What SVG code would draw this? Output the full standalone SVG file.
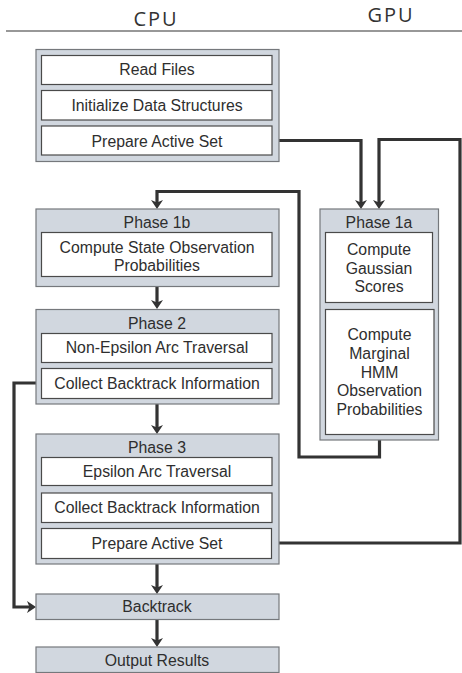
<svg xmlns="http://www.w3.org/2000/svg" width="462" height="673" viewBox="0 0 462 673">
  <style>
    .outer { fill: #d1d7df; stroke: #75787c; stroke-width: 1.2; }
    .inner { fill: #ffffff; stroke: #4a4a4a; stroke-width: 1.2; }
    .lbl { font-family: "Liberation Sans", Arial, sans-serif; font-size: 15.8px; fill: #2e2e2e; text-anchor: middle; }
    .head { font-family: "Open Sans", "DejaVu Sans", sans-serif; font-size: 20px; fill: #333333; text-anchor: middle; letter-spacing: 2px; }
    .wire { fill: none; stroke: #333333; stroke-width: 3.2; stroke-linejoin: miter; marker-end: url(#arrow); }
  </style>
  <defs>
    <marker id="arrow" markerUnits="userSpaceOnUse" viewBox="-1 -8 12 16" markerWidth="12" markerHeight="16" refX="4" refY="0" orient="auto">
      <path d="M0,-6 L9,0 L0,6 L2.5,0 Z" fill="#333333"/>
    </marker>
  </defs>

  <rect width="462" height="673" fill="#ffffff"/>

  <!-- column headings -->
  <g id="headings">
    <text class="head" x="156" y="25.5">CPU</text>
    <text class="head" x="391" y="22">GPU</text>
    <line x1="6" y1="31" x2="462" y2="31" stroke="#333333" stroke-width="1.2"/>
  </g>

  <!-- connectors -->
  <g id="connectors">
    <path class="wire" d="M272,140.5 H361 V204"/>
    <path class="wire" d="M272,543 H460 V139.5 H379 V204"/>
    <path class="wire" d="M379.5,440 V457 H299 V191.5 H157 V204"/>
    <path class="wire" d="M157,287 V304"/>
    <path class="wire" d="M157,404 V429"/>
    <path class="wire" d="M157,564 V589"/>
    <path class="wire" d="M157,619.5 V642"/>
    <path class="wire" d="M41.5,383 H14 V607 H31"/>
  </g>

  <!-- initialisation -->
  <g id="init">
    <rect class="outer" x="36" y="49.5" width="243" height="112"/>
    <rect class="inner" x="41.5" y="55.5" width="230.5" height="29"/>
    <text class="lbl" x="157" y="75">Read Files</text>
    <rect class="inner" x="41.5" y="90.5" width="230.5" height="29.5"/>
    <text class="lbl" x="157" y="110.5">Initialize Data Structures</text>
    <rect class="inner" x="41.5" y="126" width="230.5" height="29"/>
    <text class="lbl" x="157" y="146.5">Prepare Active Set</text>
  </g>

  <!-- phase 1b -->
  <g id="phase1b">
    <rect class="outer" x="36" y="209" width="243" height="77.5"/>
    <text class="lbl" x="157" y="227.5">Phase 1b</text>
    <rect class="inner" x="41.5" y="232.5" width="230.5" height="44"/>
    <text class="lbl" x="157" y="252.5">Compute State Observation</text>
    <text class="lbl" x="157" y="271">Probabilities</text>
  </g>

  <!-- phase 2 -->
  <g id="phase2">
    <rect class="outer" x="36" y="309.5" width="243" height="94.5"/>
    <text class="lbl" x="157" y="328.5">Phase 2</text>
    <rect class="inner" x="41.5" y="333.5" width="230.5" height="29"/>
    <text class="lbl" x="157" y="353">Non-Epsilon Arc Traversal</text>
    <rect class="inner" x="41.5" y="368.5" width="230.5" height="30"/>
    <text class="lbl" x="157" y="388.5">Collect Backtrack Information</text>
  </g>

  <!-- phase 3 -->
  <g id="phase3">
    <rect class="outer" x="36" y="434" width="243" height="130"/>
    <text class="lbl" x="157" y="452.5">Phase 3</text>
    <rect class="inner" x="41.5" y="457.5" width="230.5" height="28"/>
    <text class="lbl" x="157" y="477">Epsilon Arc Traversal</text>
    <rect class="inner" x="41.5" y="493" width="230.5" height="29.5"/>
    <text class="lbl" x="157" y="513">Collect Backtrack Information</text>
    <rect class="inner" x="41.5" y="528.5" width="230" height="30"/>
    <text class="lbl" x="157" y="548.5">Prepare Active Set</text>
  </g>

  <!-- backtrack -->
  <g id="backtrack">
    <rect class="outer" x="36" y="594" width="243" height="25.5"/>
    <text class="lbl" x="157" y="612">Backtrack</text>
  </g>

  <!-- output -->
  <g id="output">
    <rect class="outer" x="36" y="647" width="243" height="25.5"/>
    <text class="lbl" x="157" y="665.5">Output Results</text>
  </g>

  <!-- phase 1a (GPU) -->
  <g id="phase1a">
    <rect class="outer" x="320" y="209" width="118.5" height="231"/>
    <text class="lbl" x="379" y="227.5">Phase 1a</text>
    <rect class="inner" x="325.5" y="232.5" width="107" height="70"/>
    <text class="lbl" x="379" y="255">Compute</text>
    <text class="lbl" x="379" y="273.5">Gaussian</text>
    <text class="lbl" x="379" y="292">Scores</text>
    <rect class="inner" x="325.5" y="309.5" width="108.5" height="125"/>
    <text class="lbl" x="379.5" y="340">Compute</text>
    <text class="lbl" x="379.5" y="358.5">Marginal</text>
    <text class="lbl" x="379.5" y="377.5">HMM</text>
    <text class="lbl" x="379.5" y="396">Observation</text>
    <text class="lbl" x="379.5" y="415">Probabilities</text>
  </g>
</svg>
